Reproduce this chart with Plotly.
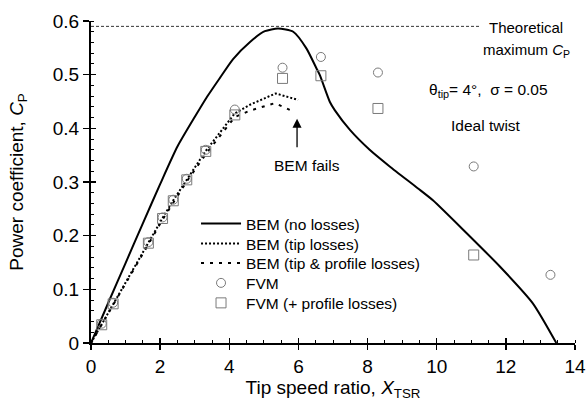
import plotly.graph_objects as go

# ---------------- data ----------------
bem_no_x = [0, 0.5, 1.0, 1.5, 2.0, 2.5, 3.0, 3.34, 3.73, 4.11, 4.6, 5.03, 5.41, 5.85, 6.23, 6.52, 6.62,
            6.91, 7.05, 7.49, 8.06, 8.64, 9.46, 9.89, 10.86, 11.82, 12.78, 13.46]
bem_no_y = [0, 0.075, 0.149, 0.223, 0.296, 0.366, 0.421, 0.457, 0.494, 0.529, 0.561, 0.581, 0.586, 0.580,
            0.549, 0.512, 0.499, 0.449, 0.434, 0.397, 0.360, 0.329, 0.288, 0.266, 0.205, 0.143, 0.074, 0]

bem_tip_x = [0, 0.31, 0.64, 1.66, 2.07, 2.38, 2.77, 3.32, 4.16, 4.6, 5.34, 5.99]
bem_tip_y = [0, 0.035, 0.074, 0.187, 0.233, 0.266, 0.305, 0.358, 0.428, 0.444, 0.465, 0.453]

bem_prof_x = [0, 0.31, 0.64, 1.66, 2.07, 2.38, 2.77, 3.32, 4.16, 4.6, 5.03, 5.32, 5.9]
bem_prof_y = [0, 0.034, 0.072, 0.184, 0.230, 0.262, 0.301, 0.352, 0.421, 0.433, 0.442, 0.447, 0.430]

fvm_x = [0.31, 0.64, 1.66, 2.07, 2.38, 2.77, 3.32, 4.16, 5.54, 6.65, 8.30, 11.07, 13.29]
fvm_y = [0.036, 0.075, 0.188, 0.234, 0.267, 0.306, 0.360, 0.435, 0.513, 0.533, 0.504, 0.329, 0.127]

fvmp_x = [0.31, 0.64, 1.66, 2.07, 2.38, 2.77, 3.32, 4.16, 5.54, 6.65, 8.30, 11.07]
fvmp_y = [0.034, 0.073, 0.186, 0.232, 0.265, 0.304, 0.357, 0.425, 0.493, 0.498, 0.437, 0.164]

cp_max = 0.59
cp_max_x = [0, 11.25]

x_ticks = [0, 2, 4, 6, 8, 10, 12, 14]
y_ticks = [0, 0.1, 0.2, 0.3, 0.4, 0.5, 0.6]

FONT = "Arial, Liberation Sans, sans-serif"
GRAY = "#7a7a7a"

fig = go.Figure()

fig.add_trace(go.Scatter(x=cp_max_x, y=[cp_max, cp_max], mode="lines",
                         line=dict(color="#333333", width=1, dash="3px,2px"),
                         showlegend=False, hoverinfo="skip"))

fig.add_trace(go.Scatter(x=bem_no_x, y=bem_no_y, mode="lines", name="BEM (no losses)", legend="legend",
                         line=dict(color="black", width=2, shape="spline", smoothing=0.6)))
fig.add_trace(go.Scatter(x=bem_tip_x, y=bem_tip_y, mode="lines", name="BEM (tip losses)", legend="legend2",
                         line=dict(color="black", width=2, dash="2px,2px")))
fig.add_trace(go.Scatter(x=bem_prof_x, y=bem_prof_y, mode="lines", name="BEM (tip & profile losses)",
                         legend="legend3", line=dict(color="black", width=2, dash="3px,6px")))
fig.add_trace(go.Scatter(x=fvm_x, y=fvm_y, mode="markers", name="FVM", legend="legend4",
                         marker=dict(symbol="circle-open", size=9, color=GRAY, line=dict(width=1, color=GRAY))))
fig.add_trace(go.Scatter(x=fvmp_x, y=fvmp_y, mode="markers", name="FVM (+ profile losses)", legend="legend5",
                         marker=dict(symbol="square-open", size=10, color=GRAY, line=dict(width=1, color=GRAY))))

# overlay axes to draw the inward half of the major ticks
fig.add_trace(go.Scatter(x=[0], y=[0], xaxis="x2", yaxis="y2", mode="markers",
                         marker=dict(opacity=0), showlegend=False, hoverinfo="skip"))

annotations = [
    dict(x=12.59, y=1.012, xref="x", yref="paper", text="Theoretical", showarrow=False,
         font=dict(size=15, color="black", family=FONT)),
    dict(x=12.59, y=0.945, xref="x", yref="paper", text="maximum <i>C</i><sub>P</sub>", showarrow=False,
         font=dict(size=15, color="black", family=FONT)),
    dict(x=11.50, y=0.471, xref="x", yref="y", text="θ<sub>tip</sub>= 4°,  σ = 0.05", showarrow=False,
         font=dict(size=15.5, color="black", family=FONT)),
    dict(x=11.42, y=0.406, xref="x", yref="y", text="Ideal twist", showarrow=False,
         font=dict(size=15.5, color="black", family=FONT)),
    dict(x=6.26, y=0.33, xref="x", yref="y", text="BEM fails", showarrow=False,
         font=dict(size=15.5, color="black", family=FONT)),
    dict(x=5.96, y=0.418, xref="x", yref="y", ax=5.96, ay=0.362, axref="x", ayref="y",
         text="", showarrow=True, arrowhead=2, arrowsize=1.4, arrowwidth=1.3, arrowcolor="black"),
]

leg_x = 0.217
leg_rows = [0.3696, 0.3075, 0.2475, 0.1854, 0.1233]
leg_common = dict(x=leg_x, xanchor="left", yanchor="middle", bgcolor="rgba(0,0,0,0)",
                  font=dict(size=15.5, family=FONT, color="black"), itemwidth=40)

fig.update_layout(
    width=586, height=407,
    margin=dict(l=91, r=11, t=21, b=64),
    paper_bgcolor="white", plot_bgcolor="white",
    font=dict(family=FONT, size=19, color="black"),
    showlegend=True,
    legend=dict(y=leg_rows[0], **leg_common),
    legend2=dict(y=leg_rows[1], **leg_common),
    legend3=dict(y=leg_rows[2], **leg_common),
    legend4=dict(y=leg_rows[3], **leg_common),
    legend5=dict(y=leg_rows[4], **leg_common),
    annotations=annotations,
    xaxis=dict(range=[0, 14], tickvals=x_ticks, showgrid=False, zeroline=False, automargin=False,
               showline=True, linecolor="black", linewidth=2,
               ticks="outside", ticklen=5, tickwidth=1.5, tickcolor="black",
               minor=dict(ticks="inside", dtick=0.5, tick0=0, ticklen=3, tickwidth=1, tickcolor="black"),
               tickfont=dict(size=19),
               title=dict(text="Tip speed ratio, <i>X</i><sub>TSR</sub>", font=dict(size=19), standoff=4)),
    yaxis=dict(range=[0, 0.6], tickvals=y_ticks, ticktext=[str(v) if v else "0" for v in y_ticks],
               showgrid=False, zeroline=False, automargin=False,
               showline=True, linecolor="black", linewidth=2,
               ticks="outside", ticklen=6, tickwidth=1.5, tickcolor="black",
               minor=dict(ticks="inside", dtick=0.02, tick0=0, ticklen=3, tickwidth=1, tickcolor="black"),
               tickfont=dict(size=19),
               title=dict(text="Power coefficient, <i>C</i><sub>P</sub>", font=dict(size=19), standoff=24)),
    xaxis2=dict(range=[0, 14], overlaying="x", tickvals=x_ticks, showticklabels=False, showgrid=False,
                automargin=False, zeroline=False, showline=False, ticks="inside", ticklen=5,
                tickwidth=1.5, tickcolor="black"),
    yaxis2=dict(range=[0, 0.6], overlaying="y", tickvals=y_ticks, showticklabels=False, showgrid=False,
                automargin=False, zeroline=False, showline=False, ticks="inside", ticklen=5,
                tickwidth=1.5, tickcolor="black"),
)

fig.write_html("out.html", config={"displayModeBar": False, "staticPlot": True},
               post_script="document.body.style.margin='0';document.body.style.overflow='hidden';")
